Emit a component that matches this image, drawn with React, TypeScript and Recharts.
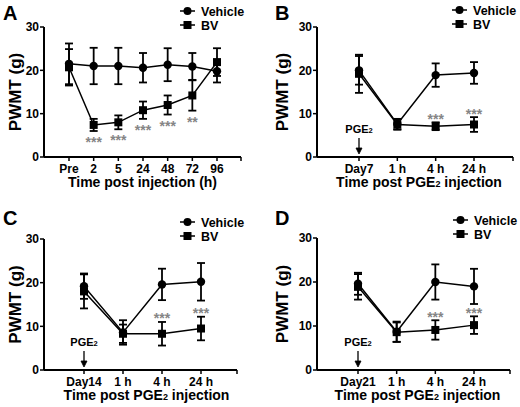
import React from "react";
import {
  LineChart,
  Line,
  XAxis,
  YAxis,
  ErrorBar,
  LabelList,
  Label,
  ReferenceDot,
} from "recharts";

const FONT = '"Liberation Sans", Arial, Helvetica, sans-serif';

// ---------------------------------------------------------------------------
// Data (PWMT in g, mean and SEM per time point)
// ---------------------------------------------------------------------------

const timesA = ["Pre", "2", "5", "24", "48", "72", "96"];
const vehicleA = [21.5, 21.0, 21.0, 20.6, 21.3, 20.9, 19.8];
const vehicleErrA = [4.7, 4.2, 4.2, 3.4, 3.8, 3.1, 2.6];
const bvA = [20.7, 7.4, 8.0, 10.8, 12.0, 14.2, 21.9];
const bvErrA = [4.2, 1.4, 1.6, 2.0, 2.2, 3.5, 3.2];
const starsA = ["", "***", "***", "***", "***", "**", ""];

const timesB = ["Day7", "1 h", "4 h", "24 h"];
const vehicleB = [20.0, 7.6, 18.9, 19.4];
const vehicleErrB = [3.3, 1.2, 2.7, 2.5];
const bvB = [19.2, 7.5, 7.1, 7.5];
const bvErrB = [4.4, 1.2, 0.9, 1.7];
const starsB = ["", "", "***", "***"];

const timesC = ["Day14", "1 h", "4 h", "24 h"];
const vehicleC = [19.2, 8.6, 19.6, 20.2];
const vehicleErrC = [2.9, 2.8, 3.6, 4.3];
const bvC = [18.0, 8.3, 8.3, 9.5];
const bvErrC = [3.9, 2.1, 2.7, 2.7];
const starsC = ["", "", "***", "***"];

const timesD = ["Day21", "1 h", "4 h", "24 h"];
const vehicleD = [19.6, 8.7, 20.0, 19.0];
const vehicleErrD = [2.5, 2.3, 4.0, 4.0];
const bvD = [18.9, 8.6, 9.1, 10.2];
const bvErrD = [2.9, 2.2, 2.2, 2.0];
const starsD = ["", "", "***", "***"];

const yTicks = [0, 10, 20, 30];

const seriesList = [
  { key: "vehicle", name: "Vehicle", shape: "circle" },
  { key: "bv", name: "BV", shape: "square" },
];

function buildRows(
  times: string[],
  vehicle: number[],
  vehicleErr: number[],
  bv: number[],
  bvErr: number[],
  stars: string[]
) {
  return times.map((t, i) => ({
    t,
    vehicle: vehicle[i],
    vehicleErr: vehicleErr[i],
    bv: bv[i],
    bvErr: bvErr[i],
    stars: stars[i],
  }));
}

// ---------------------------------------------------------------------------
// Markers
// ---------------------------------------------------------------------------

function CircleDot(p: any) {
  if (p.cx == null || p.cy == null) return <g />;
  return <circle cx={p.cx} cy={p.cy} r={4.2} fill="#000" />;
}

function SquareDot(p: any) {
  if (p.cx == null || p.cy == null) return <g />;
  return <rect x={p.cx - 4} y={p.cy - 4} width={8} height={8} fill="#000" />;
}

function PgeTitle({ x, y }: { x: number; y: number }) {
  return (
    <text x={x} y={y} textAnchor="middle" fontFamily={FONT} fontWeight="bold" fontSize={14} fill="#000">
      Time post PGE<tspan fontSize={9}>2</tspan> injection
    </text>
  );
}

// ---------------------------------------------------------------------------
// Panel
// ---------------------------------------------------------------------------

interface PanelProps {
  letter: string;
  left: number;
  top: number;
  height: number;
  rows: ReturnType<typeof buildRows>;
  yAxisWidth: number;
  marginTop: number;
  marginRight: number;
  xAxisHeight: number;
  padLeft: number;
  padRight: number;
  starsBelow: boolean;
  pgeTitle: boolean;
  titleDx: number;
  letterX: number;
  legendX: number;
  legendY: number;
}

function Panel(props: PanelProps) {
  const {
    letter, left, top, height, rows, yAxisWidth, marginTop, marginRight,
    xAxisHeight, padLeft, padRight, starsBelow, pgeTitle, titleDx,
    letterX, legendX, legendY,
  } = props;
  const width = 260;
  const plotH = height - marginTop - xAxisHeight;
  const ppu = plotH / 30;
  const plotRight = width - marginRight;
  const plotBottom = height - xAxisHeight;

  const renderStars = (p: any) => {
    const row = rows[p.index];
    if (!row || !row.stars) return null;
    const errPx = row.bvErr * ppu;
    const cy = starsBelow ? p.y + errPx + 8 : p.y - errPx - 6.5;
    return (
      <text x={p.x} y={cy + 8} textAnchor="middle" fontFamily={FONT} fontWeight="bold" fontSize={14} fill="#858585">
        {row.stars}
      </text>
    );
  };

  const renderArrow = (p: any) => {
    const { cx, cy } = p;
    return (
      <g>
        <text x={cx} y={cy - 24} textAnchor="middle" fontFamily={FONT} fontWeight="bold" fontSize={11} fill="#000">
          PGE<tspan fontSize={7.5}>2</tspan>
        </text>
        <line x1={cx} y1={cy - 19} x2={cx} y2={cy - 8} stroke="#000" strokeWidth={1.3} />
        <path d={`M${cx - 3},${cy - 9} L${cx},${cy - 3} L${cx + 3},${cy - 9} Z`} fill="#000" stroke="#000" strokeWidth={0.8} />
      </g>
    );
  };

  return (
    <div style={{ position: "absolute", left, top, width, height }}>
      <LineChart
        width={width}
        height={height}
        data={rows}
        margin={{ top: marginTop, right: marginRight, left: 0, bottom: 0 }}
      >
        <XAxis
          dataKey="t"
          type="category"
          height={xAxisHeight}
          padding={{ left: padLeft, right: padRight }}
          interval={0}
          tickSize={4}
          tickMargin={3}
          axisLine={{ stroke: "#000", strokeWidth: 2 }}
          tickLine={{ stroke: "#000", strokeWidth: 1.5 }}
          tick={{ fontSize: 12, fontWeight: "bold", fill: "#000", fontFamily: FONT }}
        >
          <Label
            content={(lp: any) => {
              const vb = lp.viewBox;
              const x = vb.x + vb.width / 2 + titleDx;
              const y = vb.y + 30;
              return pgeTitle ? (
                <PgeTitle x={x} y={y} />
              ) : (
                <text x={x} y={y} textAnchor="middle" fontFamily={FONT} fontWeight="bold" fontSize={14} fill="#000">
                  Time post injection (h)
                </text>
              );
            }}
          />
        </XAxis>
        <YAxis
          type="number"
          domain={[0, 30]}
          ticks={yTicks}
          width={yAxisWidth}
          tickSize={4}
          tickMargin={1}
          axisLine={{ stroke: "#000", strokeWidth: 2 }}
          tickLine={{ stroke: "#000", strokeWidth: 1.5 }}
          tick={{ fontSize: 12, fontWeight: "bold", fill: "#000", fontFamily: FONT }}
        >
          <Label
            content={(lp: any) => {
              const vb = lp.viewBox;
              const x = vb.x + yAxisWidth - (yAxisWidth === 44 ? 23 : 29);
              const y = vb.y + vb.height / 2;
              return (
                <text
                  x={x}
                  y={y}
                  transform={`rotate(-90, ${x}, ${y})`}
                  textAnchor="middle"
                  fontFamily={FONT}
                  fontWeight="bold"
                  fontSize={17}
                  fill="#000"
                >
                  PWMT (g)
                </text>
              );
            }}
          />
        </YAxis>
        <Line
          dataKey="vehicle"
          name="Vehicle"
          stroke="#000"
          strokeWidth={1.5}
          dot={<CircleDot />}
          activeDot={false}
          isAnimationActive={false}
        >
          <ErrorBar dataKey="vehicleErr" width={4} stroke="#000" strokeWidth={1.8} direction="y" />
        </Line>
        <Line
          dataKey="bv"
          name="BV"
          stroke="#000"
          strokeWidth={1.5}
          dot={<SquareDot />}
          activeDot={false}
          isAnimationActive={false}
        >
          <ErrorBar dataKey="bvErr" width={4} stroke="#000" strokeWidth={1.8} direction="y" />
          <LabelList dataKey="stars" content={renderStars} />
        </Line>
        {pgeTitle && (
          <ReferenceDot x={rows[0].t} y={0} r={0} shape={renderArrow} ifOverflow="visible" />
        )}
      </LineChart>
      <svg
        width={width}
        height={height}
        style={{ position: "absolute", left: 0, top: 0, pointerEvents: "none", overflow: "hidden" }}
      >
        {/* closing tick at the right end of the x axis */}
        <line x1={plotRight} y1={plotBottom} x2={plotRight} y2={plotBottom + 4} stroke="#000" strokeWidth={1.5} />
        <text x={letterX} y={20} fontFamily={FONT} fontWeight="bold" fontSize={20} fill="#000">
          {letter}
        </text>
        {seriesList.map((s, i) => {
          const y = legendY + i * 14;
          return (
            <g key={s.key}>
              <line x1={legendX} y1={y} x2={legendX + 15} y2={y} stroke="#000" strokeWidth={1.5} />
              {s.shape === "circle" ? (
                <circle cx={legendX + 7.5} cy={y} r={4} fill="#000" />
              ) : (
                <rect x={legendX + 3.5} y={y - 4} width={8} height={8} fill="#000" />
              )}
              <text x={legendX + 21} y={y + 4.5} fontFamily={FONT} fontWeight="bold" fontSize={12.5} fill="#000">
                {s.name}
              </text>
            </g>
          );
        })}
      </svg>
    </div>
  );
}

export default function App() {
  return (
    <div
      style={{
        position: "absolute",
        left: 0,
        top: 0,
        width: 520,
        height: 407,
        background: "#fff",
        overflow: "hidden",
      }}
    >
      <Panel
        letter="A"
        left={0}
        top={0}
        height={205}
        rows={buildRows(timesA, vehicleA, vehicleErrA, bvA, bvErrA, starsA)}
        yAxisWidth={44}
        marginTop={27}
        marginRight={19}
        xAxisHeight={48}
        padLeft={25}
        padRight={24}
        starsBelow={true}
        pgeTitle={false}
        titleDx={0}
        letterX={3}
        legendX={180}
        legendY={11}
      />
      <Panel
        letter="B"
        left={260}
        top={0}
        height={205}
        rows={buildRows(timesB, vehicleB, vehicleErrB, bvB, bvErrB, starsB)}
        yAxisWidth={57}
        marginTop={27}
        marginRight={7}
        xAxisHeight={48}
        padLeft={42}
        padRight={39}
        starsBelow={false}
        pgeTitle={true}
        titleDx={4}
        letterX={15}
        legendX={192}
        legendY={10}
      />
      <Panel
        letter="C"
        left={0}
        top={205}
        height={202}
        rows={buildRows(timesC, vehicleC, vehicleErrC, bvC, bvErrC, starsC)}
        yAxisWidth={44}
        marginTop={34}
        marginRight={23}
        xAxisHeight={37}
        padLeft={40}
        padRight={36}
        starsBelow={false}
        pgeTitle={true}
        titleDx={6}
        letterX={3}
        legendX={180}
        legendY={17}
      />
      <Panel
        letter="D"
        left={260}
        top={205}
        height={202}
        rows={buildRows(timesD, vehicleD, vehicleErrD, bvD, bvErrD, starsD)}
        yAxisWidth={57}
        marginTop={33}
        marginRight={10}
        xAxisHeight={37}
        padLeft={41}
        padRight={36}
        starsBelow={false}
        pgeTitle={true}
        titleDx={4}
        letterX={15}
        legendX={193}
        legendY={15}
      />
    </div>
  );
}
